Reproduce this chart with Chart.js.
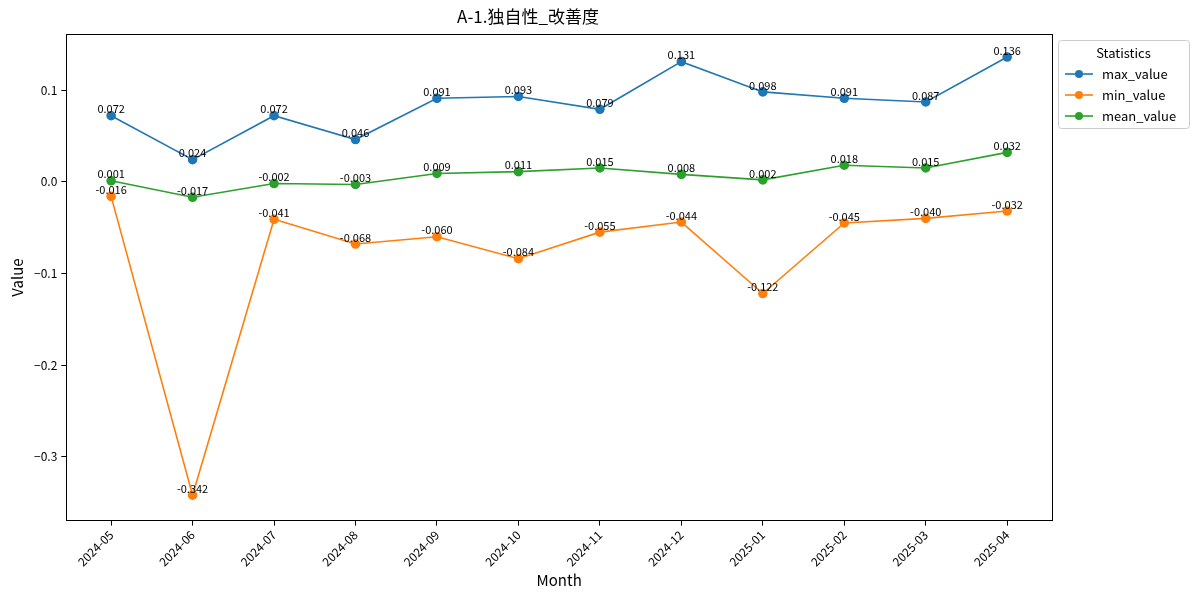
<!DOCTYPE html>
<html><head><meta charset="utf-8">
<script src="https://cdn.jsdelivr.net/npm/chart.js@4"></script>
<style>body{margin:0;background:#fff}#wrap{width:1200px;height:595px}</style>
</head><body><div id="wrap"><canvas id="c"></canvas></div>
<script>
const months = ['2024-05','2024-06','2024-07','2024-08','2024-09','2024-10','2024-11','2024-12','2025-01','2025-02','2025-03','2025-04'];
const maxValue = [0.072,0.024,0.072,0.046,0.091,0.093,0.079,0.131,0.098,0.091,0.087,0.136];
const minValue = [-0.016,-0.342,-0.041,-0.068,-0.060,-0.084,-0.055,-0.044,-0.122,-0.045,-0.040,-0.032];
const meanValue = [0.001,-0.017,-0.002,-0.003,0.009,0.011,0.015,0.008,0.002,0.018,0.015,0.032];
const yTicks = [0.1,0.0,-0.1,-0.2,-0.3];
const FONT = "'Noto Sans CJK JP','Noto Sans',sans-serif";

function ds(label, vals, color) {
  return {label, data: vals.map((v,i)=>({x:i,y:v})), borderColor:color, backgroundColor:color,
    borderWidth:1.6, pointRadius:4, pointHoverRadius:4, tension:0};
}

// value labels above each point
const valueLabels = {
  id:'valueLabels',
  afterDatasetsDraw(chart){
    const ctx = chart.ctx;
    ctx.save();
    ctx.font = "11px " + FONT; ctx.fillStyle = '#000';
    ctx.textAlign = 'center'; ctx.textBaseline = 'bottom';
    chart.data.datasets.forEach((d,di)=>{
      chart.getDatasetMeta(di).data.forEach((p,i)=>{
        ctx.fillText(d.data[i].y.toFixed(3), p.x, p.y - 1);
      });
    });
    ctx.restore();
  }
};

// frame around plot area and matplotlib-like legend box
const boxLegend = {
  id:'boxLegend',
  afterDraw(chart){
    const ctx = chart.ctx, a = chart.chartArea;
    ctx.save();
    ctx.strokeStyle='#000'; ctx.lineWidth=1;
    ctx.strokeRect(Math.round(a.left)+0.5, Math.round(a.top)+0.5, Math.round(a.right-a.left), Math.round(a.bottom-a.top));
    const x0 = 1058, y0 = 40, w = 131, h = 88;
    ctx.fillStyle='#fff'; ctx.strokeStyle='#ccc';
    ctx.beginPath(); ctx.roundRect(x0+0.5,y0+0.5,w,h,3); ctx.fill(); ctx.stroke();
    ctx.fillStyle='#000'; ctx.font="13px "+FONT; ctx.textAlign='center'; ctx.textBaseline='middle';
    ctx.fillText('Statistics', x0+w/2, y0+13);
    ctx.textAlign='left';
    chart.data.datasets.forEach((d,i)=>{
      const y = y0+34+i*21;
      ctx.strokeStyle=d.borderColor; ctx.lineWidth=1.6;
      ctx.beginPath(); ctx.moveTo(x0+7,y); ctx.lineTo(x0+35,y); ctx.stroke();
      ctx.fillStyle=d.borderColor; ctx.beginPath(); ctx.arc(x0+21,y,4,0,Math.PI*2); ctx.fill();
      ctx.fillStyle='#000'; ctx.fillText(d.label, x0+44, y);
    });
    ctx.restore();
  }
};

new Chart(document.getElementById('c'), {
  type:'line',
  data:{datasets:[ds('max_value',maxValue,'#1f77b4'), ds('min_value',minValue,'#ff7f0e'), ds('mean_value',meanValue,'#2ca02c')]},
  options:{
    responsive:true, maintainAspectRatio:false, animation:false,
    layout:{padding:{left:4,right:148,top:0,bottom:6}},
    plugins:{
      legend:{display:false}, tooltip:{enabled:false},
      title:{display:true, text:'A-1.独自性_改善度', color:'#000', font:{family:FONT,size:17,weight:'normal'}, padding:{top:6,bottom:8}}
    },
    scales:{
      x:{type:'linear', min:-0.55, max:11.55,
        afterBuildTicks(ax){ ax.ticks = months.map((m,i)=>({value:i})); },
        ticks:{color:'#000', font:{family:FONT,size:12}, maxRotation:45, minRotation:45, autoSkip:false, padding:2,
          callback:(v)=>months[v]},
        grid:{display:true, drawOnChartArea:false, drawTicks:true, tickLength:5, color:'#000'}, border:{color:'#000'},
        title:{display:true, text:'Month', color:'#000', font:{family:FONT,size:15}, padding:{top:0,bottom:0}}},
      y:{min:-0.3697, max:0.1607,
        afterBuildTicks(ax){ ax.ticks = yTicks.map(v=>({value:v})); },
        ticks:{color:'#000', font:{family:FONT,size:12}, padding:4, callback:(v)=>(v<0?'\u2212':'')+Math.abs(v).toFixed(1)},
        grid:{display:true, drawOnChartArea:false, drawTicks:true, tickLength:5, color:'#000'}, border:{color:'#000'},
        title:{display:true, text:'Value', color:'#000', font:{family:FONT,size:15}}}
    }
  },
  plugins:[valueLabels, boxLegend]
});
</script></body></html>
